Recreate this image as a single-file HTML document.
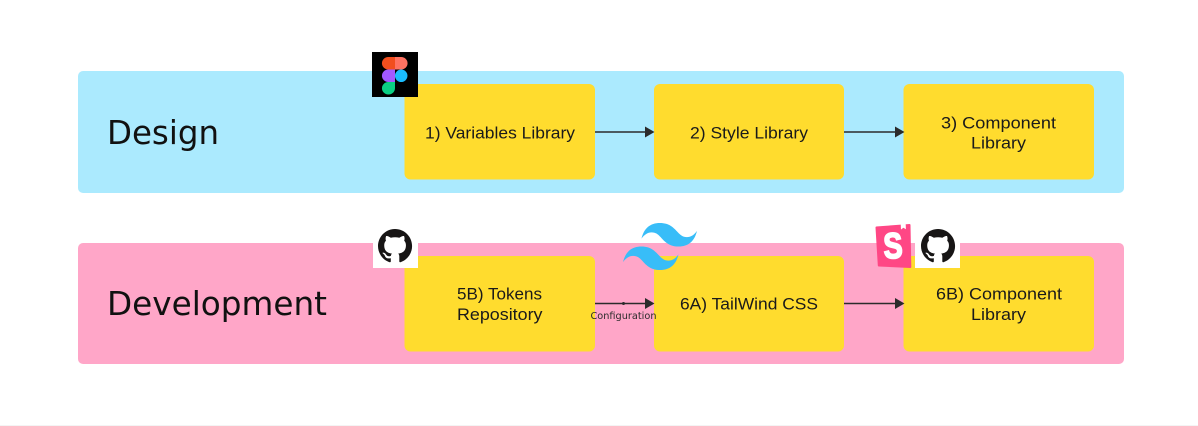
<!DOCTYPE html>
<html><head><meta charset="utf-8"><style>
html,body{margin:0;padding:0;background:#fff;width:1198px;height:426px;overflow:hidden}
svg{display:block}
.t{font-family:"Liberation Sans",sans-serif;font-size:17px;fill:#1a1a1a}
.h{font-family:"DejaVu Sans",sans-serif;font-size:33px;fill:#111}
</style></head><body>
<svg width="1198" height="426" viewBox="0 0 1198 426" xmlns="http://www.w3.org/2000/svg">
<defs>
<path id="gh" d="M8 0C3.58 0 0 3.58 0 8c0 3.54 2.29 6.53 5.47 7.59.4.07.55-.17.55-.38 0-.19-.01-.82-.01-1.49-2.01.37-2.53-.49-2.69-.94-.09-.23-.48-.94-.82-1.13-.28-.15-.68-.52-.01-.53.63-.01 1.08.58 1.23.82.72 1.21 1.87.87 2.33.66.07-.52.28-.87.51-1.07-1.78-.2-3.64-.89-3.64-3.95 0-.87.31-1.59.82-2.15-.08-.2-.36-1.02.08-2.12 0 0 .67-.21 2.2.82.64-.18 1.32-.27 2-.27s1.36.09 2 .27c1.53-1.04 2.2-.82 2.2-.82.44 1.1.16 1.92.08 2.12.51.56.82 1.27.82 2.15 0 3.07-1.87 3.75-3.65 3.95.29.25.54.73.54 1.48 0 1.07-.01 1.93-.01 2.2 0 .21.15.46.55.38A8.01 8.01 0 0 0 16 8c0-4.42-3.58-8-8-8z"/>
</defs>
<rect x="0" y="0" width="1198" height="425" fill="#fff"/>
<rect x="0" y="425" width="1198" height="1" fill="#f4f4f4"/>
<rect x="78" y="71" width="1046" height="122" rx="5" fill="#abeafe"/>
<rect x="78" y="243" width="1046" height="121" rx="5" fill="#ffa6c8"/>

<rect x="404.500" y="84" width="190.500" height="95.500" rx="6" fill="#ffdc2e"/>
<rect x="654" y="84" width="190" height="95.500" rx="6" fill="#ffdc2e"/>
<rect x="903.500" y="84" width="190.500" height="95.500" rx="6" fill="#ffdc2e"/>
<rect x="404.500" y="256" width="190.500" height="95.500" rx="6" fill="#ffdc2e"/>
<rect x="654" y="256" width="190" height="95.500" rx="6" fill="#ffdc2e"/>
<rect x="903.500" y="256" width="190.500" height="95.500" rx="6" fill="#ffdc2e"/>

<text class="h" x="107" y="144" textLength="112" lengthAdjust="spacingAndGlyphs">Design</text>
<text class="h" x="107" y="315" textLength="220" lengthAdjust="spacingAndGlyphs">Development</text>

<text class="t" x="425" y="138.500" textLength="150" lengthAdjust="spacingAndGlyphs">1) Variables Library</text>
<text class="t" x="690" y="138.500" textLength="118" lengthAdjust="spacingAndGlyphs">2) Style Library</text>
<text class="t" x="941" y="128.500" textLength="115" lengthAdjust="spacingAndGlyphs">3) Component</text>
<text class="t" x="971" y="148.500" textLength="55" lengthAdjust="spacingAndGlyphs">Library</text>
<text class="t" x="457" y="299.500" textLength="85" lengthAdjust="spacingAndGlyphs">5B) Tokens</text>
<text class="t" x="457" y="320" textLength="85.500" lengthAdjust="spacingAndGlyphs">Repository</text>
<text class="t" x="680" y="309.500" textLength="138" lengthAdjust="spacingAndGlyphs">6A) TailWind CSS</text>
<text class="t" x="936" y="299.500" textLength="126" lengthAdjust="spacingAndGlyphs">6B) Component</text>
<text class="t" x="971" y="320" textLength="55" lengthAdjust="spacingAndGlyphs">Library</text>

<g stroke="#2b2b2b" stroke-width="1.600" fill="#2b2b2b">
<line x1="595" y1="132" x2="647" y2="132"/><polygon stroke="none" points="654.500,132 645,126.500 645,137.500"/>
<line x1="844" y1="132" x2="896" y2="132"/><polygon stroke="none" points="904.500,132 895,126.500 895,137.500"/>
<line x1="595" y1="303.500" x2="647" y2="303.500"/><polygon stroke="none" points="654.500,303.500 645,298 645,309"/>
<line x1="844" y1="303.500" x2="896" y2="303.500"/><polygon stroke="none" points="904.500,303.500 895,298 895,309"/>
<circle cx="623.500" cy="303.500" r="1.500" stroke="none"/>
</g>
<text x="590.500" y="319" font-family="'DejaVu Sans',sans-serif" font-size="10" fill="#2b2b2b" textLength="66" lengthAdjust="spacingAndGlyphs">Configuration</text>

<!-- Figma -->
<rect x="372" y="52" width="46" height="45" fill="#000"/>
<path d="M395 57h-6.800a6.250 6.250 0 0 0 0 12.500H395z" fill="#f24e1e"/>
<path d="M395 57h6.300a6.250 6.250 0 0 1 0 12.500H395z" fill="#ff7262"/>
<path d="M395 69.500h-6.800a6.250 6.250 0 0 0 0 12.500H395z" fill="#a259ff"/>
<circle cx="401.200" cy="75.800" r="6.250" fill="#1abcfe"/>
<path d="M395 82h-6.800a6.250 6.250 0 0 0 0 12.500 6.600 6.250 0 0 0 6.800-6.250z" fill="#0acf83"/>

<!-- GitHub 1 -->
<rect x="373" y="229" width="45" height="39" fill="#fff"/>
<use href="#gh" transform="translate(378 229) scale(2.130)" fill="#171515"/>

<!-- Tailwind -->
<path transform="translate(623 223) scale(1.370 1.450)" fill="#38bdf8" d="M27 0c-7.200 0-11.700 3.600-13.500 10.800 2.700-3.600 5.850-4.950 9.450-4.050 2.054.513 3.522 2.004 5.147 3.653C30.744 13.090 33.808 16.200 40.500 16.200c7.200 0 11.700-3.600 13.500-10.800-2.700 3.600-5.850 4.950-9.450 4.050-2.054-.513-3.522-2.004-5.147-3.653C36.756 3.110 33.692 0 27 0zM13.500 16.200C6.300 16.200 1.800 19.800 0 27c2.700-3.600 5.850-4.950 9.450-4.050 2.054.514 3.522 2.004 5.147 3.653C17.244 29.290 20.308 32.400 27 32.400c7.200 0 11.700-3.600 13.500-10.800-2.700 3.600-5.850 4.950-9.450 4.050-2.054-.513-3.522-2.004-5.147-3.653C23.256 19.310 20.192 16.200 13.500 16.200z"/>

<!-- Storybook -->
<path d="M876 226.500l33.500-2.500q1 0 1 1l.8 42q0 1-1 1l-31.500-1.500q-1 0-1-1l-2.300-38q0-1 1-1z" fill="#ff4785"/>
<path d="M900.700 224l.3 5.500 2.400-1.700 2.500 1.500-.2-5.600z" fill="#fff"/>
<text x="883.500" y="258" font-family="'Liberation Sans',sans-serif" font-weight="700" font-size="36" fill="#fff" stroke="#fff" stroke-width="1.800" transform="rotate(-3 893 246)" textLength="19" lengthAdjust="spacingAndGlyphs">S</text>

<!-- GitHub 2 -->
<rect x="915" y="229" width="45" height="39" fill="#fff"/>
<use href="#gh" transform="translate(921 229) scale(2.130)" fill="#171515"/>
</svg>
</body></html>
